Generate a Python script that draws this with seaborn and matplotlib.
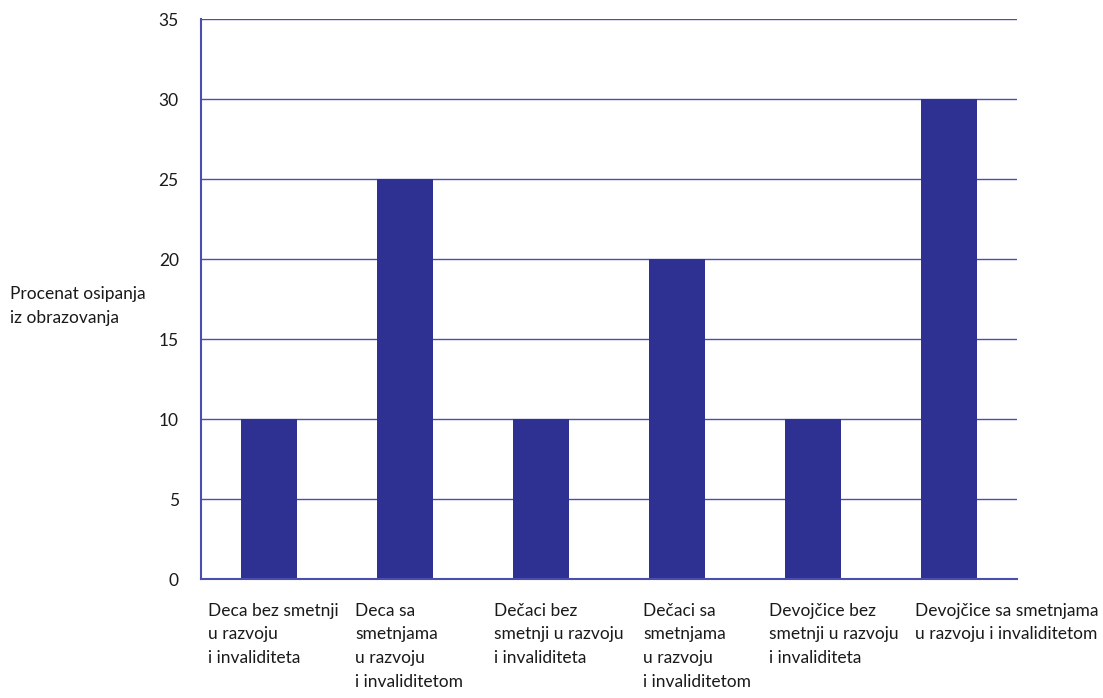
import matplotlib
matplotlib.use("Agg")
import matplotlib.pyplot as plt
import matplotlib.transforms as mtransforms
import seaborn as sns
import pandas as pd
import numpy as np

categories = [
    "Deca bez smetnji\nu razvoju\ni invaliditeta",
    "Deca sa\nsmetnjama\nu razvoju\ni invaliditetom",
    "Dečaci bez\nsmetnji u razvoju\ni invaliditeta",
    "Dečaci sa\nsmetnjama\nu razvoju\ni invaliditetom",
    "Devojčice bez\nsmetnji u razvoju\ni invaliditeta",
    "Devojčice sa smetnjama\nu razvoju i invaliditetom",
]
values = [10, 25, 10, 20, 10, 30]
yticks = [0, 5, 10, 15, 20, 25, 30, 35]
ylabel = "Procenat osipanja\niz obrazovanja"

sns.set_style("white")
plt.rcParams['font.family'] = ['Lato', 'DejaVu Sans']

BAR = "#2E3192"
GRID = "#4A4EAE"
TXT = "#1a1a1a"
FS = 12.5
LS = 1.6

fig = plt.figure(figsize=(11.03, 6.98), dpi=100)
ax = fig.add_axes([201/1103, 119/698, 816/1103, 560/698])

df = pd.DataFrame({"cat": categories, "val": values})
sns.barplot(data=df, x="cat", y="val", color=BAR, saturation=1, width=0.41, ax=ax,
            linewidth=0, edgecolor=BAR)

ax.set_ylim(0, 35)
ax.set_xlim(-0.5, len(categories) - 0.5)
ax.set_yticks(yticks)
ax.yaxis.grid(True, color=GRID, linewidth=1)
ax.set_axisbelow(True)
for s in ["top", "right"]:
    ax.spines[s].set_visible(False)
for s in ["left", "bottom"]:
    ax.spines[s].set_color(GRID)
    ax.spines[s].set_linewidth(1.5)

ax.set_xlabel("")
ax.set_ylabel("")
ax.tick_params(axis="y", which="major", length=5, width=1, color=GRID, direction="out",
               labelsize=FS, pad=11, labelcolor=TXT)
ax.tick_params(axis="x", which="major", length=0, pad=17, labelsize=FS, labelcolor=TXT)
ax.set_xticks(np.arange(len(categories)) + 0.0001, minor=False)
ax.set_xticklabels(categories, ha="left", va="top", linespacing=LS)
ax.set_xticks(np.arange(-0.5, len(categories)), minor=True)
ax.tick_params(axis="x", which="minor", length=5, width=1, color=GRID, direction="out")

offsets = [-61, -50, -47, -34, -44, -34]
for lab, off in zip(ax.get_xticklabels(), offsets):
    lab.set_transform(lab.get_transform() + mtransforms.ScaledTranslation(off / 100, 0, fig.dpi_scale_trans))

fig.text(10/1103, 1 - 306/698, ylabel, ha="left", va="center", fontsize=FS, linespacing=LS, color=TXT)

fig.savefig("out.png", dpi=100, facecolor="white")
